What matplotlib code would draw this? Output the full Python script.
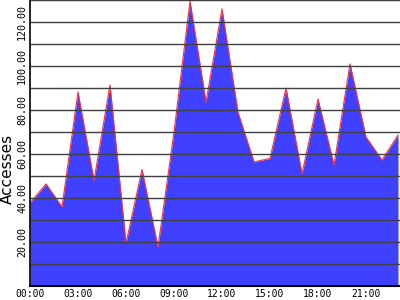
import matplotlib
matplotlib.use("Agg")
import matplotlib.pyplot as plt

# accesses per hour
hours = list(range(24))
accesses = [37.7, 46.4, 36.0, 88.2, 48.0, 91.4, 19.5, 53.0, 17.7, 70.0,
            129.5, 83.6, 126.0, 79.0, 56.4, 58.0, 90.0, 51.0, 85.0, 55.0,
            101.0, 67.7, 57.3, 68.6]
tick_hours = [0, 3, 6, 9, 12, 15, 18, 21]
tick_labels = ["00:00", "03:00", "06:00", "09:00", "12:00", "15:00", "18:00", "21:00"]
grid_vals = list(range(10, 140, 10))
ytick_vals = [20, 40, 60, 80, 100, 120]

fig = plt.figure(figsize=(4, 3), dpi=100)
ax = fig.add_axes([0.075, 0.0467, 0.925, 0.9533])

ax.fill_between(hours, accesses, 0, color="#4040ff", linewidth=0, zorder=1)
ax.plot(hours, accesses, color="#ff3030", linewidth=0.8, zorder=2)

# grid drawn over the fill
for g in grid_vals:
    ax.axhline(g, color="#404040", linewidth=1.0, zorder=3)

ax.set_xlim(0, 23.125)
ax.set_ylim(0, 130)

ax.set_xticks(tick_hours)
ax.set_xticklabels(tick_labels, family="DejaVu Sans Mono", fontsize=7)
ax.set_yticks(ytick_vals)
ax.set_yticklabels(["%.2f" % v for v in ytick_vals], family="DejaVu Sans Mono",
                   fontsize=7.2, rotation=90, va="center")
ax.tick_params(length=0, pad=2)

ax.set_ylabel("Accesses", fontsize=11)
ax.yaxis.set_label_coords(-0.042, 0.41)

for side in ["top", "right"]:
    ax.spines[side].set_visible(False)
ax.spines["left"].set_linewidth(1.2)
ax.spines["bottom"].set_linewidth(1.5)
ax.spines["left"].set_zorder(4)
ax.spines["bottom"].set_zorder(4)

fig.savefig("out.png", dpi=100)
